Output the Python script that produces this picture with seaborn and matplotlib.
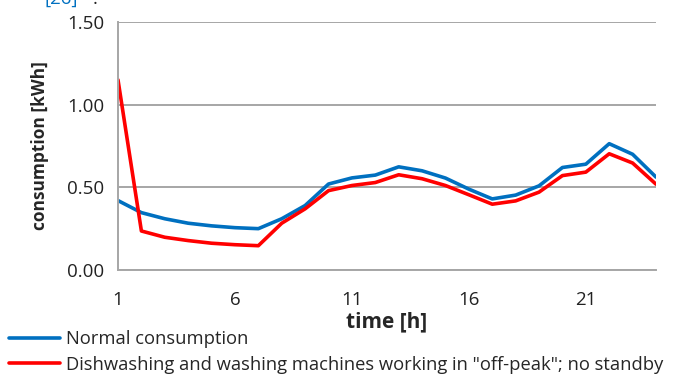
import matplotlib
matplotlib.use("Agg")
import matplotlib.pyplot as plt
import seaborn as sns
import pandas as pd

hours = list(range(1, 25))
normal = [0.42, 0.347, 0.31, 0.283, 0.267, 0.256, 0.25, 0.31, 0.39, 0.52, 0.557, 0.574,
          0.624, 0.60, 0.556, 0.489, 0.43, 0.453, 0.509, 0.62, 0.64, 0.764, 0.70, 0.562]
offpeak = [1.15, 0.236, 0.198, 0.178, 0.162, 0.153, 0.147, 0.283, 0.37, 0.48, 0.511, 0.529,
           0.576, 0.552, 0.511, 0.455, 0.398, 0.418, 0.471, 0.571, 0.592, 0.703, 0.647, 0.519]
series_names = ["Normal consumption",
                'Dishwashing and washing machines working in "off-peak"; no standby']
series_colors = ["#0070C0", "#FF0000"]
x_tick_labels = [1, 6, 11, 16, 21]
y_ticks = [0.0, 0.5, 1.0, 1.5]

df = pd.concat([
    pd.DataFrame({"hour": hours, "kWh": normal, "series": series_names[0]}),
    pd.DataFrame({"hour": hours, "kWh": offpeak, "series": series_names[1]}),
])

sns.set_theme(style="white")
plt.rcParams["font.family"] = ["Open Sans", "DejaVu Sans"]

fig = plt.figure(figsize=(6.75, 3.74), dpi=100)
ax = fig.add_axes([118 / 675, 1 - 270 / 374, (656 - 118) / 675, (270 - 22) / 374])

sns.lineplot(data=df, x="hour", y="kWh", hue="series", palette=series_colors,
             linewidth=2.6, ax=ax, legend=True)

grid_color = "#A6A6A6"
ax.set_xlim(1, 24)
ax.set_ylim(0, 1.5)
ax.set_xticks(hours)
ax.set_xticklabels([str(h) if h in x_tick_labels else "" for h in hours])
ax.set_yticks(y_ticks)
ax.set_yticklabels([f"{v:.2f}" for v in y_ticks])
ax.yaxis.grid(True, color=grid_color, linewidth=1.4)
ax.set_axisbelow(True)
for side in ("top", "right"):
    ax.spines[side].set_visible(False)
for side in ("left", "bottom"):
    ax.spines[side].set_color(grid_color)
    ax.spines[side].set_linewidth(1.4)
ax.tick_params(axis="both", which="major", direction="out", color=grid_color,
               width=1.2, length=5, labelsize=13.5, labelcolor="#222222", pad=5)
ax.tick_params(axis="x", pad=10)

ax.set_xlabel("time [h]", fontsize=15, fontweight="bold", labelpad=2)
ax.set_ylabel("consumption [kWh]", fontsize=12.5, fontweight="bold", labelpad=13)

handles, labels = ax.get_legend_handles_labels()
ax.legend(handles, labels, loc="upper left", bbox_to_anchor=(9 / 675, 1 - 330 / 374),
          bbox_transform=fig.transFigure, frameon=False, fontsize=13.2,
          handlelength=2.8, handletextpad=0.3, labelspacing=0.42,
          borderpad=0, borderaxespad=0)

fig.text(45 / 675, 1 - 4 / 374, "[26]", color="#0070C0", fontsize=13.5, va="baseline")
fig.text(93 / 675, 1 - 4 / 374, ".", color="#222222", fontsize=13.5, va="baseline")

fig.savefig("out.png", dpi=100)
